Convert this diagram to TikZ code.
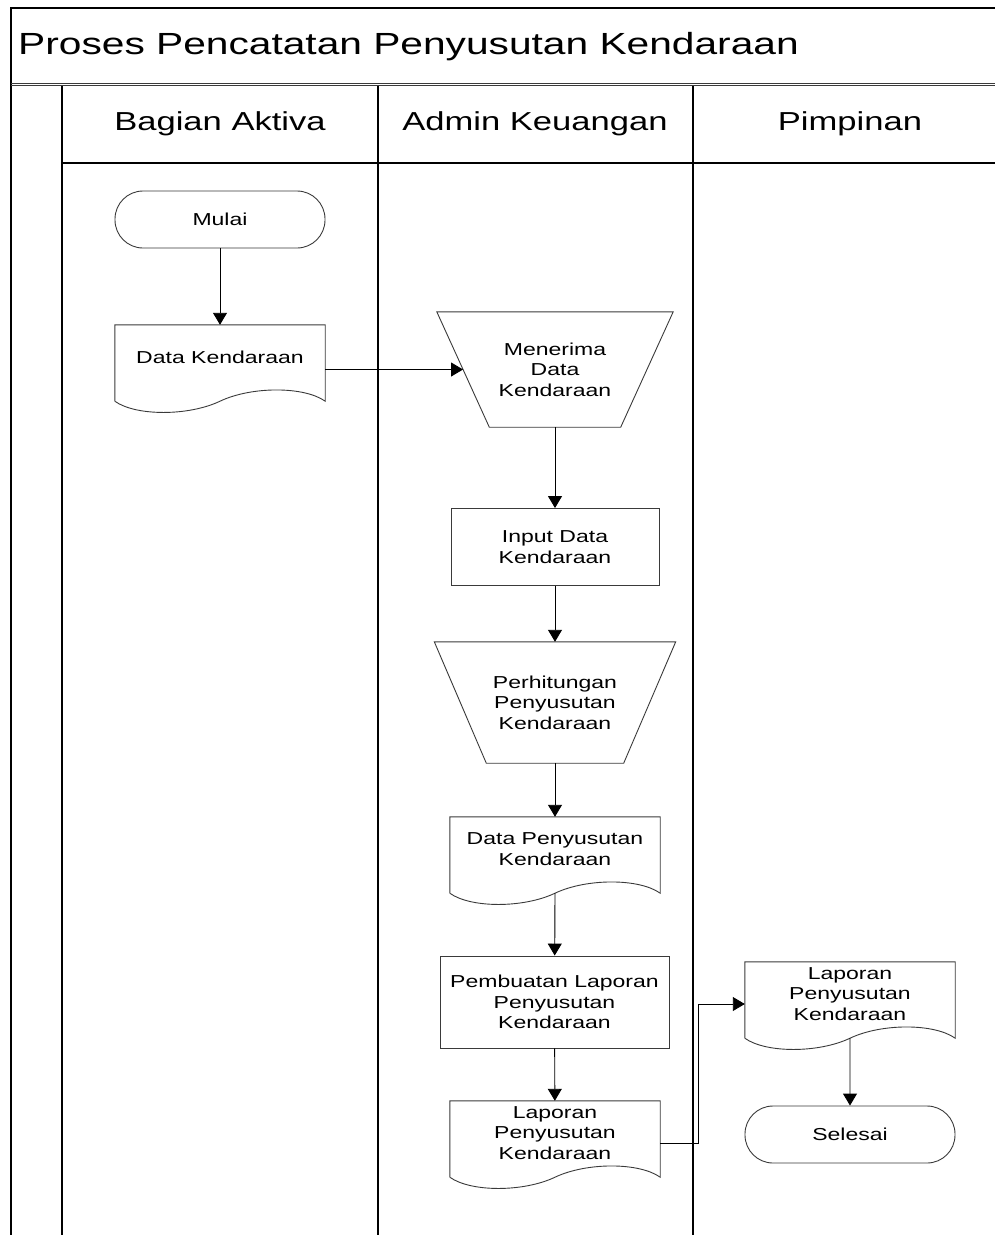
\documentclass[tikz,border=0pt]{standalone}
\usepackage{fontspec}
\setmainfont{Liberation Sans}[FakeStretch=1.33]
\usetikzlibrary{arrows.meta,calc}
\definecolor{lnGray}{HTML}{3A3A3A}
\newcommand\nodeFont{\fontsize{17.3}{20.5}\selectfont}
\newcommand\laneFont{\fontsize{26}{30}\selectfont}
\newcommand\titleFont{\fontsize{30.6}{36}\selectfont}
% контур документа с волнистым низом
\newcommand\docshape[1]{%
  \path ([yshift=8pt]#1.south west) coordinate (#1-sw) ([yshift=8pt]#1.south east) coordinate (#1-se);
  \draw[shp] (#1-sw) -- (#1.north west) -- (#1.north east) -- (#1-se)
    .. controls ($(#1-se)!0.1!(#1-sw)+(0,-15)$) and ($(#1-se)!0.35!(#1-sw)+(0,-15)$) .. ($(#1-se)!0.5!(#1-sw)$) coordinate (#1-bot)
    .. controls ($(#1-se)!0.65!(#1-sw)+(0,15)$) and ($(#1-se)!0.9!(#1-sw)+(0,15)$) .. (#1-sw);}
\newcommand\manop[2]{%
  \draw[shp] (#1.north west) -- (#1.north east) -- ([xshift=-#2pt]#1.south east) -- ([xshift=#2pt]#1.south west) -- cycle;
  \coordinate (#1-in) at ($(#1.north west)!0.5!([xshift=#2pt]#1.south west)$);}

\begin{document}
\begin{tikzpicture}[x=1pt,y=-1pt,
    frame/.style={draw=black,line width=1.5pt},
    shp/.style={draw=lnGray,line width=0.9pt},
    flow/.style={draw=black,line width=0.9pt,-{Triangle[length=12pt,width=14pt]}},
    box/.style={rectangle,draw=lnGray,line width=0.9pt,inner sep=0pt,align=center,font=\nodeFont},
    term/.style={box,rounded corners=28pt,minimum width=210pt,minimum height=57pt},
    doc/.style={rectangle,inner sep=0pt,minimum width=210pt,minimum height=84pt},
    doctxt/.style={align=center,font=\nodeFont,inner sep=0pt,yshift=10pt},
    manual/.style={rectangle,inner sep=0pt,align=center,font=\nodeFont}]
  \useasboundingbox (0,0) rectangle (995,1235);
  \draw[frame] (11,1235) -- (11,8) -- (995,8);
  \draw[frame,draw=lnGray,line width=1.2pt] (11,83.3) -- (995,83.3);
  \draw[frame,draw=lnGray,line width=1.2pt] (11,85.8) -- (995,85.8);
  \draw[frame] (62,163) -- (995,163);
  \draw[frame] (62,86) -- (62,1235);
  \draw[frame] (378,86) -- (378,1235);
  \draw[frame] (693,86) -- (693,1235);

  \node[anchor=west,inner sep=0pt,font=\titleFont] (judul) at (18,47) {Proses Pencatatan Penyusutan Kendaraan};
  \node[font=\laneFont] (aktiva) at (220,124) {Bagian Aktiva};
  \node[font=\laneFont] (admin) at (535,124) {Admin Keuangan};
  \node[font=\laneFont] (pimpinan) at (850,124) {Pimpinan};

  \node[term] (mulai) at (220,219.5) {Mulai};
  \node[doc,label={[doctxt]center:Data Kendaraan}] (dk) at (220,367) {};
  \docshape{dk}
  \node[manual,minimum width=236pt,minimum height=115pt] (menerima) at (555,369.5) {Menerima\\Data\\Kendaraan};
  \manop{menerima}{52.5}
  \node[box,minimum width=208pt,minimum height=77pt] (input) at (555,547) {Input Data\\Kendaraan};
  \node[manual,minimum width=241pt,minimum height=121pt] (hitung) at (555,702.5) {Perhitungan\\Penyusutan\\Kendaraan};
  \manop{hitung}{52}
  \node[doc,label={[doctxt]center:Data Penyusutan\\Kendaraan}] (dp) at (555,859) {};
  \docshape{dp}
  \node[box,minimum width=229pt,minimum height=92pt] (buat) at (554.5,1002) {Pembuatan Laporan\\Penyusutan\\Kendaraan};
  \node[doc,label={[doctxt]center:Laporan\\Penyusutan\\Kendaraan}] (lap1) at (555,1143) {};
  \docshape{lap1}
  \node[doc,label={[doctxt]center:Laporan\\Penyusutan\\Kendaraan}] (lap2) at (850,1004) {};
  \docshape{lap2}
  \node[term] (selesai) at (850,1134.5) {Selesai};

  \draw[flow] (mulai) -- (dk);
  \draw[flow] (dk.east |- menerima-in) -- (menerima-in);
  \draw[flow] (menerima) -- (input);
  \draw[flow] (input) -- (hitung);
  \draw[flow] (hitung) -- (dp);
  \draw[flow] (dp-bot) -- (buat);
  \draw[flow] (buat) -- (lap1);
  \draw[flow] (lap1.east) -- ++(38,0) |- (lap2.west);
  \draw[flow] (lap2-bot) -- (selesai);
\end{tikzpicture}
\end{document}
